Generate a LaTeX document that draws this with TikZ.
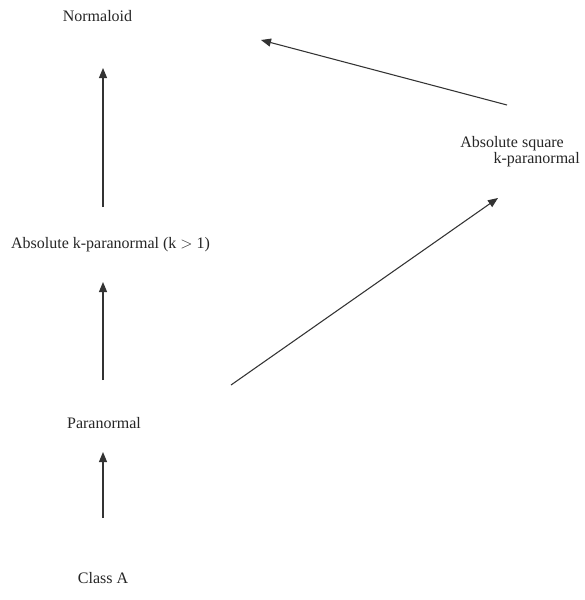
\documentclass[tikz,border=0pt]{standalone}
\usepackage{fontspec}
\setmainfont{Liberation Serif}
\usetikzlibrary{arrows.meta}
\begin{document}
\begin{tikzpicture}[x=0.75pt,y=-0.75pt,
  lbl/.style={inner sep=0pt,font=\fontsize{12}{12.4}\selectfont,text=black!85},
  arr/.style={draw=black!80,line width=0.8pt,-{Triangle[length=7.5pt,width=6pt]}}]
\useasboundingbox[fill=white] (0,0) rectangle (585,600);
\node[lbl] (norm) at (97.5,16.5) {Normaloid};
\node[lbl] (absk) at (110.5,245) {Absolute k-paranormal (k $>$ 1)};
\node[lbl] (para) at (104,423) {Paranormal};
\node[lbl] (cla) at (103,578) {Class A};
\node[lbl,align=left,anchor=north west] (abssq) at (460,136) {Absolute square\\\hspace*{25pt}k-paranormal};
\coordinate (a1s) at (103,207); \coordinate (a1e) at (103,68);
\coordinate (a2s) at (103,380); \coordinate (a2e) at (103,282);
\coordinate (a3s) at (103,518); \coordinate (a3e) at (103,452);
\coordinate (a4s) at (231,385); \coordinate (a4e) at (498,198);
\coordinate (a5s) at (507,105); \coordinate (a5e) at (261,40);
\draw[arr] (a1s) -- (a1e);
\draw[arr] (a2s) -- (a2e);
\draw[arr] (a3s) -- (a3e);
\draw[arr] (a4s) -- (a4e);
\draw[arr] (a5s) -- (a5e);
\end{tikzpicture}
\end{document}
